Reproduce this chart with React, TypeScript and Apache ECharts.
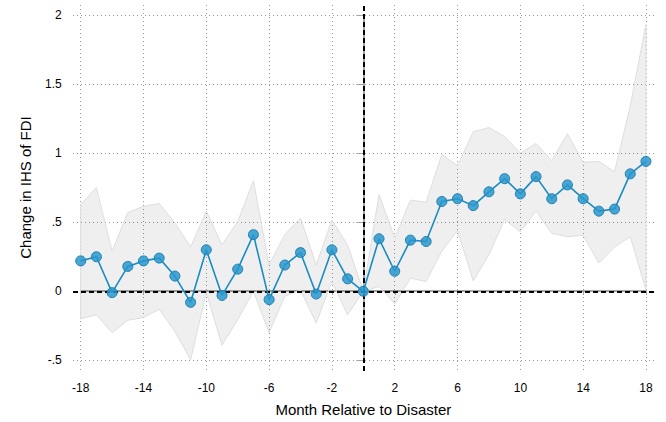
import React, { useEffect, useRef } from "react";
import * as echarts from "echarts";

const months = [-18,-17,-16,-15,-14,-13,-12,-11,-10,-9,-8,-7,-6,-5,-4,-3,-2,-1,0,1,2,3,4,5,6,7,8,9,10,11,12,13,14,15,16,17,18];
const coef = [0.22,0.25,-0.01,0.18,0.22,0.24,0.11,-0.08,0.30,-0.03,0.16,0.41,-0.06,0.19,0.28,-0.02,0.30,0.09,0.0,0.38,0.145,0.37,0.36,0.65,0.67,0.62,0.72,0.815,0.705,0.83,0.67,0.77,0.67,0.58,0.595,0.85,0.94];
const upper = [0.63,0.75,0.29,0.57,0.615,0.635,0.495,0.32,0.58,0.335,0.505,0.80,0.19,0.41,0.53,0.19,0.515,0.335,0.0,0.70,0.385,0.66,0.645,0.99,0.91,1.155,1.185,1.12,1.0,1.07,0.945,1.14,0.935,0.94,0.865,1.34,1.93];
const lower = [-0.20,-0.17,-0.30,-0.21,-0.19,-0.13,-0.29,-0.495,-0.01,-0.39,-0.205,0.0,-0.30,-0.035,0.01,-0.23,0.07,-0.17,0.0,0.035,-0.09,0.095,0.07,0.29,0.44,0.075,0.265,0.52,0.43,0.58,0.42,0.395,0.405,0.205,0.32,0.395,0.01];
const xTicks = [-18,-14,-10,-6,-2,2,6,10,14,18];
const yTicks = [-0.5,0,0.5,1,1.5,2];

const FONT = "'Liberation Sans', Arial, sans-serif";
const AXIS_GRAY = "#a3a3a3";

function fmtY(v: number): string {
  if (v === 0) return "0";
  return String(v).replace("0.", ".");
}

export default function App() {
  const ref = useRef<HTMLDivElement>(null);
  useEffect(() => {
    if (!ref.current) return;
    const chart = echarts.init(ref.current, null, { renderer: "svg" });
    const coefData = months.map((m, i) => [m, coef[i]]);
    const bandData = months.map((m, i) => [m, lower[i], upper[i]]);
    chart.setOption({
      animation: false,
      backgroundColor: "#fff",
      textStyle: { fontFamily: FONT },
      grid: [
        { left: 73, right: 10, top: 5, bottom: 51 },
        { left: 80.7, right: 20, top: 15, bottom: 61.7 },
      ],
      xAxis: [
        {
          type: "value",
          gridIndex: 0,
          min: -18.49,
          max: 18.64,
          axisLine: { show: false },
          axisLabel: { show: false },
          axisTick: { show: false, customValues: xTicks },
          splitLine: { show: true, lineStyle: { color: "#9a9a9a", type: [1, 3], width: 1 } },
        },
        {
          type: "value",
          gridIndex: 1,
          min: -18,
          max: 18,
          offset: 14,
          axisLine: { show: true, lineStyle: { color: AXIS_GRAY, width: 2 } },
          axisTick: { show: true, length: 4, lineStyle: { color: AXIS_GRAY, width: 1 }, customValues: xTicks },
          axisLabel: { show: true, customValues: xTicks, color: "#000", fontSize: 12, fontFamily: FONT, margin: 8 },
          splitLine: { show: false },
          name: "Month Relative to Disaster",
          nameLocation: "middle",
          nameGap: 28,
          nameTextStyle: { color: "#000", fontSize: 15, fontFamily: FONT },
        },
      ],
      yAxis: [
        {
          type: "value",
          gridIndex: 0,
          min: -0.577,
          max: 2.072,
          axisLine: { show: false },
          axisLabel: { show: false },
          axisTick: { show: false, customValues: yTicks },
          splitLine: { show: true, lineStyle: { color: "#9a9a9a", type: [1, 3], width: 1 } },
        },
        {
          type: "value",
          gridIndex: 1,
          min: -0.5,
          max: 2,
          interval: 0.5,
          offset: 10,
          axisLine: { show: true, lineStyle: { color: AXIS_GRAY, width: 2 } },
          axisTick: { show: true, length: 7, lineStyle: { color: AXIS_GRAY, width: 1 } },
          axisLabel: { show: true, color: "#000", fontSize: 12, fontFamily: FONT, margin: 9, formatter: (v: number) => fmtY(v) },
          splitLine: { show: false },
          name: "Change in IHS of FDI",
          nameLocation: "middle",
          nameGap: 38,
          nameTextStyle: { color: "#000", fontSize: 15, fontFamily: FONT },
        },
      ],
      series: [
        {
          type: "custom",
          xAxisIndex: 0,
          yAxisIndex: 0,
          data: bandData,
          silent: true,
          z: 1,
          clip: false,
          encode: { x: 0, y: [1, 2] },
          renderItem: (params: any, api: any) => {
            if (params.dataIndex !== 0) return null;
            const pts: number[][] = [];
            for (let i = 0; i < months.length; i++) pts.push(api.coord([months[i], upper[i]]));
            for (let i = months.length - 1; i >= 0; i--) pts.push(api.coord([months[i], lower[i]]));
            return {
              type: "polygon",
              shape: { points: pts },
              style: { fill: "rgba(0,0,0,0.063)", stroke: "#dedede", lineWidth: 1 },
            };
          },
        },
        {
          type: "line",
          xAxisIndex: 0,
          yAxisIndex: 0,
          data: coefData,
          symbol: "circle",
          symbolSize: 10,
          lineStyle: { color: "#1a8cc2", width: 1.6 },
          itemStyle: { color: "rgba(40,152,204,0.85)", borderColor: "#1f80b0", borderWidth: 1 },
          z: 5,
          markLine: {
            silent: true,
            symbol: "none",
            label: { show: false },
            lineStyle: { color: "#000", type: [5, 3], width: 2 },
            data: [{ xAxis: 0 }, { yAxis: 0 }],
            z: 3,
          },
        },
      ],
    });
    return () => chart.dispose();
  }, []);
  return <div ref={ref} style={{ width: 666, height: 422, position: "absolute", left: 0, top: 0 }} />;
}
